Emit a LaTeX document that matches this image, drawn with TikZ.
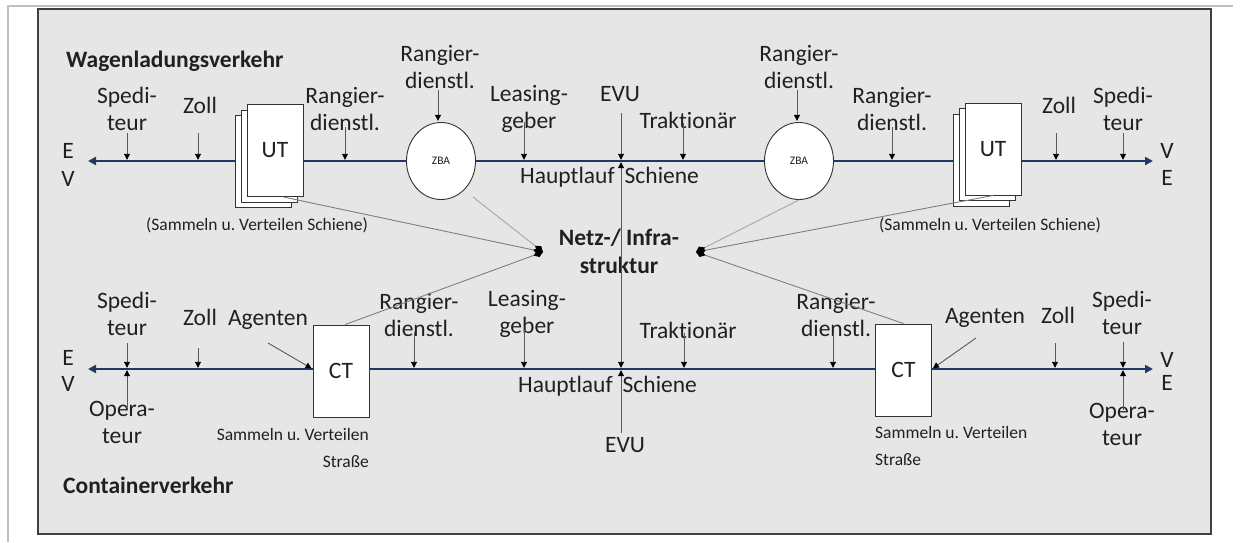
\documentclass[tikz,border=0pt]{standalone}
\usepackage{fontspec}
\setmainfont{Carlito}[Ligatures=NoCommon]
\usetikzlibrary{arrows.meta,shapes.geometric}
\frenchspacing
\definecolor{panel}{HTML}{E7E6E6}
\definecolor{frameline}{HTML}{BFBFBF}
\definecolor{railblue}{HTML}{1F3864}
\definecolor{stem}{HTML}{595959}
\definecolor{link}{HTML}{7F7F7F}
\definecolor{linklight}{HTML}{A6A6A6}
\definecolor{ink}{HTML}{202020}
\begin{document}
\begin{tikzpicture}[x=1pt,y=-1pt,
  txt/.style={font=\fontsize{23.5}{26.5}\selectfont, text=ink, inner sep=0pt, align=center, anchor=base},
  head/.style={font=\fontsize{23.5}{27.5}\selectfont\bfseries, text=ink, inner sep=0pt},
  note/.style={font=\fontsize{17.5}{27}\selectfont, text=ink, inner sep=0pt, anchor=base},
  term/.style={draw=black!80, fill=white, line width=0.9pt, minimum width=56pt, minimum height=92pt,
               inner sep=0pt, font=\fontsize{23.5}{27}\selectfont, text=ink},
  yard/.style={ellipse, draw=black!80, fill=white, line width=0.9pt, minimum width=69pt,
               minimum height=77pt, inner sep=0pt, font=\fontsize{11.5}{13}\selectfont, text=ink},
  rail/.style={draw=railblue, line width=2.4pt, {Triangle[length=8pt,width=8pt]}-{Triangle[length=8pt,width=8pt]}},
  feed/.style={draw=stem, line width=0.9pt, shorten >=1.2pt, -{Triangle[length=6pt,width=6pt,color=black]}},
  tie/.style={draw=link, line width=0.9pt, -{Diamond[length=10pt,width=7pt,color=black]}}]
\useasboundingbox (0,0) rectangle (1241,542);

% page frame and panel
\fill[white] (0,0) rectangle (1241,542);
\draw[frameline, line width=2pt] (8,542) -- (8,6) -- (1233,6);
\draw[fill=panel, draw=black!75, line width=1.2pt] (38,9) rectangle (1211,534);

% the two transport chains
\coordinate (wL) at (88,161);
\coordinate (wR) at (1153,161);
\coordinate (cL) at (88,369);
\coordinate (cR) at (1153,369);
\draw[rail] (wL) -- (wR);
\draw[rail] (cL) -- (cR);

% terminals and yards on the wagonload chain
\node[term] (utL3) at (263,161.5) {};
\node[term] (utL2) at (269,156) {};
\node[term] (utL) at (275,150.5) {UT};
\node[term] (utR3) at (981,160) {};
\node[term] (utR2) at (987,154.5) {};
\node[term] (utR) at (993,149) {UT};
\node[yard] (zba1) at (441,161) {ZBA};
\node[yard] (zba2) at (799,161) {ZBA};

% terminals on the container chain
\node[term] (ctL) at (341,371) {CT};
\node[term] (ctR) at (903.5,370) {CT};

% titles
\node[head, anchor=base west] (wag) at (66,67) {Wagenladungsverkehr};
\node[head, anchor=base west] (con) at (63,493) {Containerverkehr};

% direction letters
\node[txt] (eUL) at (68,158) {E};
\node[txt] (vUL) at (68,186) {V};
\node[txt] (vUR) at (1167,158) {V};
\node[txt] (eUR) at (1167,185) {E};
\node[txt] (eLL) at (68,365) {E};
\node[txt] (vLL) at (68,391) {V};
\node[txt] (vLR) at (1167,367) {V};
\node[txt] (eLR) at (1167,390) {E};

% ---- wagonload chain: actors (two-line labels sit on their last baseline)
\node[txt] (spedUL) at (127,130) {Spedi-\\teur};
\draw[feed] ([yshift=-3pt]spedUL.base) -- (spedUL.base |- wL);
\node[txt] (zollUL) at (200,113) {Zoll};
\draw[feed] ([xshift=-2pt,yshift=-20pt]zollUL.base) -- ([xshift=-2pt]zollUL.base |- wL);
\node[txt] (rangUL) at (345,130) {Rangier-\\dienstl.};
\draw[feed] ([yshift=3pt]rangUL.base) -- (rangUL.base |- wL);
\node[txt] (rangZ1) at (440,88) {Rangier-\\dienstl.};
\draw[feed] ([xshift=-2pt,yshift=-2pt]rangZ1.base) -- ([xshift=-2pt]rangZ1.base |- zba1.north);
\node[txt] (leasU) at (529,128) {Leasing-\\geber};
\draw[feed] ([xshift=-5pt,yshift=6pt]leasU.base) -- ([xshift=-5pt]leasU.base |- wL);
\node[txt] (evuU) at (620,101) {EVU};
\draw[feed] ([xshift=1pt,yshift=-12pt]evuU.base) -- ([xshift=1pt]evuU.base |- wL);
\node[txt] (trakU) at (688,128) {Traktionär};
\draw[feed] ([xshift=-5pt,yshift=5pt]trakU.base) -- ([xshift=-5pt]trakU.base |- wL);
\node[txt] (rangZ2) at (799,88) {Rangier-\\dienstl.};
\draw[feed] ([xshift=-2pt,yshift=-2pt]rangZ2.base) -- ([xshift=-2pt]rangZ2.base |- zba2.north);
\node[txt] (rangUR) at (892,130) {Rangier-\\dienstl.};
\draw[feed] ([yshift=3pt]rangUR.base) -- (rangUR.base |- wL);
\node[txt] (zollUR) at (1059,113) {Zoll};
\draw[feed] ([xshift=-3pt,yshift=-20pt]zollUR.base) -- ([xshift=-3pt]zollUR.base |- wL);
\node[txt] (spedUR) at (1123,130) {Spedi-\\teur};
\draw[feed] ([yshift=-3pt]spedUR.base) -- (spedUR.base |- wL);

\node[txt, anchor=base west] (haupU) at (520,183) {Hauptlauf\hspace{10pt}Schiene};
\node[note] (samUL) at (257,230) {(Sammeln u. Verteilen Schiene)};
\node[note] (samUR) at (990,230) {(Sammeln u. Verteilen Schiene)};

% ---- container chain: actors
\node[txt] (spedLL) at (127,335) {Spedi-\\teur};
\draw[feed] ([yshift=-8pt]spedLL.base) -- (spedLL.base |- cL);
\node[txt] (operLL) at (122,443) {Opera-\\teur};
\draw[feed] ([xshift=5pt,yshift=36pt]operLL.base) -- ([xshift=5pt]operLL.base |- cL);
\node[txt] (zollLL) at (200,325) {Zoll};
\draw[feed] ([xshift=-2pt,yshift=-23pt]zollLL.base) -- ([xshift=-2pt]zollLL.base |- cL);
\node[txt] (agenLL) at (268,325) {Agenten};
\draw[feed] ([yshift=-18pt]agenLL.base) -- (ctL.west |- cL);
\node[note, align=right, anchor=base east] (samLL) at (369,467) {Sammeln u. Verteilen\\Straße};
\node[txt] (rangLL) at (419,336) {Rangier-\\dienstl.};
\draw[feed] ([xshift=-5pt,yshift=4pt]rangLL.base) -- ([xshift=-5pt]rangLL.base |- cL);
\node[txt] (leasL) at (527,333) {Leasing-\\geber};
\draw[feed] ([xshift=-3pt,yshift=3pt]leasL.base) -- ([xshift=-3pt]leasL.base |- cL);
\node[txt] (trakL) at (688,338) {Traktionär};
\draw[feed] ([xshift=-4pt,yshift=5pt]trakL.base) -- ([xshift=-4pt]trakL.base |- cL);
\node[txt, anchor=base west] (haupL) at (518,392) {Hauptlauf\hspace{10pt}Schiene};
\node[txt] (evuL) at (625,452) {EVU};
\draw[feed] ([xshift=-4pt,yshift=19pt]evuL.base) -- ([xshift=-4pt]evuL.base |- cL);
\node[txt] (rangLR) at (836,336) {Rangier-\\dienstl.};
\draw[feed] ([xshift=-3pt,yshift=3pt]rangLR.base) -- ([xshift=-3pt]rangLR.base |- cL);
\node[note, align=left, anchor=base west] (samLR) at (875,465) {Sammeln u. Verteilen\\Straße};
\node[txt] (agenLR) at (985,323) {Agenten};
\draw[feed] ([xshift=-9pt,yshift=-15pt]agenLR.base) -- (ctR.east |- cR);
\node[txt] (zollLR) at (1058,323) {Zoll};
\draw[feed] ([xshift=-3pt,yshift=-20pt]zollLR.base) -- ([xshift=-3pt]zollLR.base |- cR);
\node[txt] (spedLR) at (1122,334) {Spedi-\\teur};
\draw[feed] ([xshift=1pt,yshift=-8pt]spedLR.base) -- ([xshift=1pt]spedLR.base |- cR);
\node[txt] (operLR) at (1122,445) {Opera-\\teur};
\draw[feed] ([xshift=1pt,yshift=35pt]operLR.base) -- ([xshift=1pt]operLR.base |- cR);

% ---- network / infrastructure in the middle
\node[head, align=center, anchor=base] (netz) at (619,273) {Netz-/ Infra-\\struktur};
\coordinate (netzL) at (543,252);
\coordinate (netzR) at (696,252);
\coordinate (evuTop) at (621,161);
\coordinate (evuBot) at (621,369);
\draw[draw=stem, line width=0.9pt, shorten <=1.2pt, shorten >=1.2pt,
      {Triangle[length=6pt,width=6pt,color=black]}-{Triangle[length=6pt,width=6pt,color=black]}]
      (evuTop) -- (evuBot);
\draw[tie] (utL.-80) -- (netzL);
\draw[tie, draw=linklight] ([shift={(32,36)}]zba1.center) -- (netzL);
\draw[tie] (ctL.85) -- (netzL);
\draw[tie] (utR.-90) -- (netzR);
\draw[tie, draw=linklight] (zba2.south) -- (netzR);
\draw[tie] (ctR.north) -- (netzR);
\end{tikzpicture}
\end{document}
